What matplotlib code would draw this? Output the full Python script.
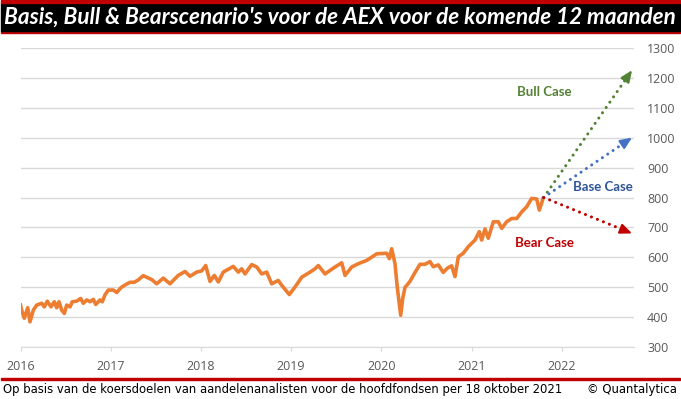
import matplotlib
matplotlib.use("Agg")
import matplotlib.pyplot as plt
from matplotlib.patches import Rectangle

# AEX koers (decimale jaren)
jaren = [2016.000, 2016.013, 2016.042, 2016.080, 2016.105, 2016.142, 2016.180, 2016.235, 2016.264, 2016.297,
         2016.338, 2016.375, 2016.401, 2016.427, 2016.457, 2016.486, 2016.512, 2016.549, 2016.574, 2016.623,
         2016.667, 2016.696, 2016.734, 2016.771, 2016.807, 2016.834, 2016.881, 2016.907, 2016.937, 2016.973,
         2017.029, 2017.067, 2017.114, 2017.159, 2017.214, 2017.262, 2017.306, 2017.361, 2017.455, 2017.510,
         2017.583, 2017.657, 2017.749, 2017.824, 2017.879, 2017.953, 2018.009, 2018.053, 2018.101, 2018.149,
         2018.193, 2018.248, 2018.359, 2018.415, 2018.452, 2018.489, 2018.563, 2018.619, 2018.674, 2018.729,
         2018.785, 2018.858, 2018.896, 2018.980, 2019.043, 2019.118, 2019.210, 2019.265, 2019.302, 2019.376,
         2019.487, 2019.561, 2019.598, 2019.672, 2019.745, 2019.838, 2019.894, 2019.949, 2020.060, 2020.089,
         2020.115, 2020.152, 2020.177, 2020.215, 2020.237, 2020.263, 2020.318, 2020.374, 2020.429, 2020.484,
         2020.540, 2020.576, 2020.632, 2020.687, 2020.732, 2020.780, 2020.817, 2020.854, 2020.909, 2020.965,
         2021.039, 2021.086, 2021.113, 2021.150, 2021.186, 2021.242, 2021.297, 2021.335, 2021.390, 2021.446,
         2021.501, 2021.557, 2021.612, 2021.667, 2021.723, 2021.752, 2021.793]
aex = [441, 424, 397, 432, 385, 424, 441, 447, 435, 454,
       435, 452, 432, 452, 424, 413, 441, 435, 452, 454,
       463, 447, 458, 452, 460, 443, 458, 452, 475, 491,
       491, 483, 499, 508, 517, 517, 525, 539, 526, 512,
       531, 512, 540, 553, 537, 551, 555, 573, 520, 540,
       518, 551, 570, 551, 562, 545, 576, 568, 545, 551,
       512, 523, 507, 476, 501, 534, 551, 562, 573, 545,
       568, 582, 540, 568, 579, 590, 601, 612, 614, 596,
       629, 579, 501, 407, 462, 500, 520, 550, 577, 577,
       586, 569, 575, 550, 564, 572, 536, 602, 614, 636,
       658, 686, 658, 695, 664, 719, 719, 697, 719, 730,
       730, 752, 769, 797, 795, 758, 796]

# scenario's
start_jaar, start_koers = 2021.80, 800
eind_jaar = 2022.78
scenarios = ["Bull Case", "Base Case", "Bear Case"]
doelen = [1225, 1000, 680]
lijn_kleuren = ["#548235", "#4472C4", "#C00000"]
tekst_kleuren = ["#548235", "#2F5597", "#C00000"]
label_pos = [(2021.81, 1152), (2022.46, 835), (2021.81, 648)]

jaar_ticks = [2016, 2017, 2018, 2019, 2020, 2021, 2022]
koers_ticks = list(range(300, 1301, 100))

titel = "Basis, Bull & Bearscenario's voor de AEX voor de komende 12 maanden"
voetnoot = "Op basis van de koersdoelen van aandelenanalisten voor de hoofdfondsen per 18 oktober 2021"
bron = "© Quantalytica"

W, H = 681, 399
fig = plt.figure(figsize=(W / 100, H / 100), dpi=100)

def fx(px):
    return px / W

def fy(py):
    return 1 - py / H

# titelbalk
fig.patches.append(Rectangle((fx(1), fy(33.3)), fx(679), 2.6 / H, transform=fig.transFigure,
                             color="#C00000", zorder=0))
fig.patches.append(Rectangle((fx(1), fy(30.7)), fx(679), 28 / H, transform=fig.transFigure,
                             color="black", zorder=0))
fig.patches.append(Rectangle((fx(1), fy(2.7)), fx(679), 2.7 / H, transform=fig.transFigure,
                             color="#C00000", zorder=0))
# lijn boven voetnoot
fig.patches.append(Rectangle((fx(1), fy(380)), fx(679), 2 / H, transform=fig.transFigure,
                             color="#C00000", zorder=0))

ax = fig.add_axes([fx(20.5), fy(347.3), fx(634 - 20.5), (347.3 - 47.7) / H])

ax.plot(jaren, aex, color="#ED7D31", lw=2.6, solid_joinstyle="round", zorder=3)

for naam, doel, lk, tk, (lx, ly) in zip(scenarios, doelen, lijn_kleuren, tekst_kleuren, label_pos):
    frac = 0.93
    mx = start_jaar + frac * (eind_jaar - start_jaar)
    my = start_koers + frac * (doel - start_koers)
    ax.plot([start_jaar, mx], [start_koers, my], color=lk, lw=2.2,
            linestyle=(0, (0.01, 2.1)), dash_capstyle="round", zorder=4)
    ax.annotate("", xy=(eind_jaar, doel), xytext=(mx, my),
                arrowprops=dict(arrowstyle="-|>,head_length=0.7,head_width=0.3",
                                color=lk, lw=1.5, shrinkA=0, shrinkB=0), zorder=4)
    ax.text(lx, ly, naam, color=tk, fontsize=9.5, fontweight="bold", family="Lato",
            ha="center", va="center", zorder=5)

ax.set_xlim(2016.0, 2016 + (634 - 20.5) / 90.2)
ax.set_ylim(300, 1300)
ax.set_xticks(jaar_ticks)
ax.set_xticklabels([str(j) for j in jaar_ticks])
ax.set_yticks(koers_ticks)
ax.yaxis.tick_right()
ax.grid(axis="y", color="#D9D9D9", lw=1)
for s in ["left", "right", "top"]:
    ax.spines[s].set_visible(False)
ax.spines["bottom"].set_color("#D9D9D9")
ax.tick_params(axis="x", length=3, color="#D9D9D9", pad=6, labelsize=9, labelcolor="#595959")
ax.tick_params(axis="y", length=0, pad=9.4, labelsize=9, labelcolor="#595959")
for lab in ax.get_xticklabels() + ax.get_yticklabels():
    lab.set_family("Open Sans")

t_titel = fig.text(fx(4), fy(16.8), titel, color="white", fontsize=14, fontweight="bold",
                   style="italic", family="Lato", ha="left", va="center")
t_voet = fig.text(fx(3), fy(389), voetnoot, color="black", fontsize=8, family="DejaVu Sans",
                  ha="left", va="center")
t_bron = fig.text(fx(677), fy(389), bron, color="black", fontsize=8, family="DejaVu Sans",
                  ha="right", va="center")

# tekstbreedte passend maken
r = fig.canvas.get_renderer()
for t, breedte in [(t_titel, 672), (t_voet, 563)]:
    w = t.get_window_extent(r).width
    t.set_fontsize(t.get_fontsize() * breedte / w)
t_bron.set_fontsize(t_voet.get_fontsize())

fig.savefig("out.png", dpi=100)
